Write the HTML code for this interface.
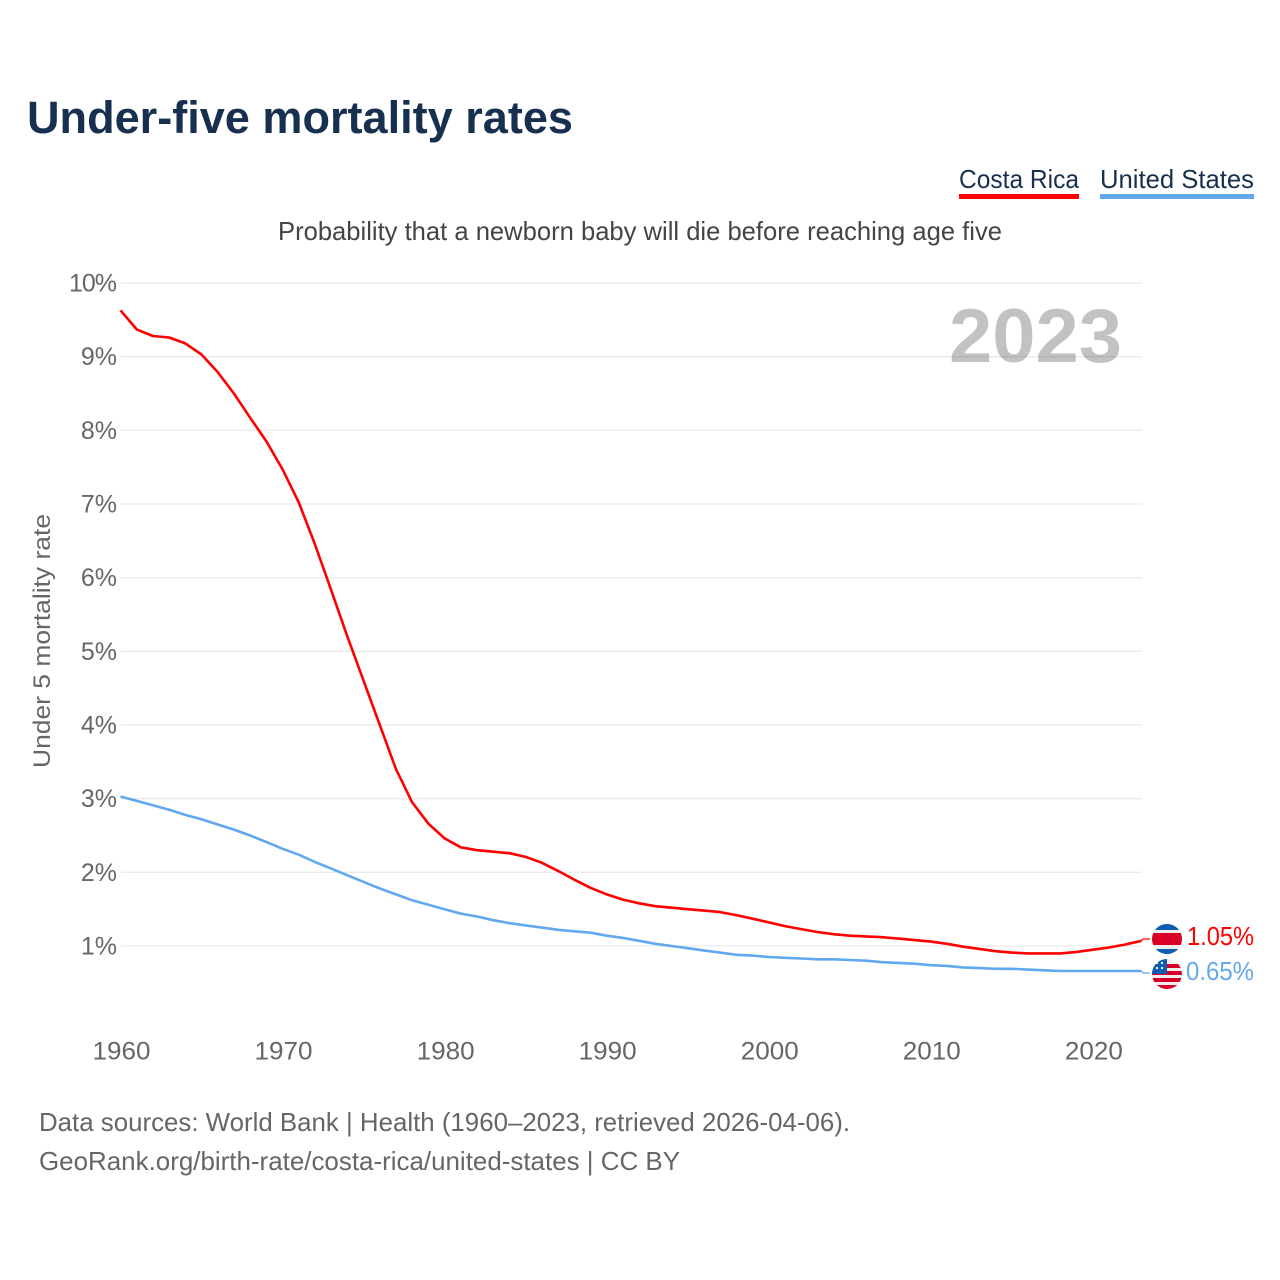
<!DOCTYPE html>
<html lang="en">
<head>
<meta charset="utf-8">
<title>Under-five mortality rates</title>
<style>
html,body{margin:0;padding:0;background:#fff;width:1280px;height:1280px;overflow:hidden}
svg{display:block}
text{font-family:"Liberation Sans",sans-serif}
</style>
</head>
<body>
<svg id="chart" xmlns="http://www.w3.org/2000/svg" width="1280" height="1280" viewBox="0 0 1280 1280">
  <defs>
    <clipPath id="flag-clip-cr"><circle cx="1167" cy="939" r="15"/></clipPath>
    <clipPath id="flag-clip-us"><circle cx="1167" cy="974" r="15"/></clipPath>
  </defs>
  <rect width="1280" height="1280" fill="#fff"/>
  <text x="27" y="133" font-size="45" font-weight="700" fill="#18304f" textLength="546" lengthAdjust="spacingAndGlyphs">Under-five mortality rates</text>

  <g>
    <g>
      <text x="959" y="188" font-size="26" fill="#18304f" textLength="120" lengthAdjust="spacingAndGlyphs">Costa Rica</text>
      <rect x="959" y="194" width="120" height="5" fill="#ff0000"/>
    </g>
    <g>
      <text x="1100" y="188" font-size="26" fill="#18304f" textLength="154" lengthAdjust="spacingAndGlyphs">United States</text>
      <rect x="1100" y="194" width="154" height="5" fill="#62a8ee"/>
    </g>
  </g>

  <text x="278" y="240" font-size="26" fill="#444" textLength="724" lengthAdjust="spacingAndGlyphs">Probability that a newborn baby will die before reaching age five</text>
  <text x="0" y="0" transform="translate(50,641) rotate(-90)" text-anchor="middle" font-size="24" fill="#666" textLength="254" lengthAdjust="spacingAndGlyphs">Under 5 mortality rate</text>

  <g id="grid"></g>
  <g id="y-ticks"></g>
  <g id="x-ticks"></g>

  <text x="949" y="362" font-size="76" font-weight="700" fill="#000" fill-opacity="0.24" textLength="173" lengthAdjust="spacingAndGlyphs">2023</text>

  <g id="series"></g>

  <g>
    <g clip-path="url(#flag-clip-cr)">
      <rect x="1150" y="922" width="34" height="34" fill="#eeeeee"/>
      <rect x="1150" y="924" width="34" height="6" fill="#0f5cb0"/>
      <rect x="1152" y="933" width="30" height="12" fill="#d80027"/>
      <rect x="1150" y="949" width="34" height="6" fill="#0f5cb0"/>
    </g>
  </g>
  <g>
    <g clip-path="url(#flag-clip-us)">
      <rect x="1150" y="957" width="34" height="34" fill="#eeeeee"/>
      <rect x="1150" y="964" width="34" height="4" fill="#d80027"/>
      <rect x="1150" y="971" width="34" height="4" fill="#d80027"/>
      <rect x="1150" y="978" width="34" height="4" fill="#d80027"/>
      <rect x="1150" y="985" width="34" height="5" fill="#d80027"/>
      <rect x="1152" y="958" width="15" height="16" fill="#0f5cb0"/>
      <rect x="1156" y="962" width="2" height="2" fill="#eee"/>
      <rect x="1161" y="962" width="2" height="2" fill="#eee"/>
      <rect x="1156" y="967" width="2" height="2" fill="#eee"/>
      <rect x="1161" y="967" width="2" height="2" fill="#eee"/>
    </g>
  </g>

  <text x="1187" y="945" font-size="26" fill="#ff0000" textLength="67" lengthAdjust="spacingAndGlyphs">1.05%</text>
  <text x="1186" y="980" font-size="26" fill="#62a8ee" textLength="68" lengthAdjust="spacingAndGlyphs">0.65%</text>

  <text x="39" y="1131" font-size="26" fill="#666" textLength="811" lengthAdjust="spacingAndGlyphs">Data sources: World Bank | Health (1960–2023, retrieved 2026-04-06).</text>
  <text x="39" y="1170" font-size="26" fill="#666" textLength="641" lengthAdjust="spacingAndGlyphs">GeoRank.org/birth-rate/costa-rica/united-states | CC BY</text>
</svg>

<script>
const startYear = 1960;
const costaRica = [9.63,9.37,9.28,9.26,9.18,9.03,8.79,8.50,8.17,7.85,7.47,7.02,6.45,5.83,5.20,4.60,4.00,3.40,2.95,2.66,2.46,2.34,2.30,2.28,2.26,2.21,2.13,2.02,1.90,1.79,1.70,1.63,1.58,1.54,1.52,1.50,1.48,1.46,1.42,1.37,1.32,1.27,1.23,1.19,1.16,1.14,1.13,1.12,1.10,1.08,1.06,1.03,0.99,0.96,0.93,0.91,0.90,0.90,0.90,0.92,0.95,0.98,1.02,1.07];
const unitedStates = [3.03,2.97,2.91,2.85,2.78,2.72,2.65,2.58,2.50,2.41,2.32,2.24,2.14,2.05,1.96,1.87,1.78,1.70,1.62,1.56,1.50,1.44,1.40,1.35,1.31,1.28,1.25,1.22,1.20,1.18,1.14,1.11,1.07,1.03,1.00,0.97,0.94,0.91,0.88,0.87,0.85,0.84,0.83,0.82,0.82,0.81,0.80,0.78,0.77,0.76,0.74,0.73,0.71,0.70,0.69,0.69,0.68,0.67,0.66,0.66,0.66,0.66,0.66,0.66];
const yTicks = [1,2,3,4,5,6,7,8,9,10];
const xTicks = [1960,1970,1980,1990,2000,2010,2020];

const NS = 'http://www.w3.org/2000/svg';
function xScale(year){ return 120.5 + (year - 1960) * (1141.5 - 120.5) / 63; }
function yScale(v){ return 946 - (v - 1) * (946 - 283) / 9; }
function make(tag, attrs, parent){
  const el = document.createElementNS(NS, tag);
  for (const k in attrs) el.setAttribute(k, attrs[k]);
  parent.appendChild(el);
  return el;
}

const grid = document.getElementById('grid');
const yG = document.getElementById('y-ticks');
const xG = document.getElementById('x-ticks');
const seriesG = document.getElementById('series');

yTicks.forEach(function(t){
  const line = make('line', {x1:121, x2:1142, y1:yScale(t), y2:yScale(t), stroke:'#ebebeb', 'stroke-width':1.3}, grid);
  
  
  const label = make('text', {x:117, y:yScale(t) + 8.5, 'text-anchor':'end', 'font-size':25, fill:'#666'}, yG);
  label.textContent = t + '%';
  if (t === 10) label.setAttribute('textLength', 48);
  
  
});

xTicks.forEach(function(t){
  const label = make('text', {x:xScale(t) + 1, y:1059.5, 'text-anchor':'middle', 'font-size':25, fill:'#666', textLength:58, lengthAdjust:'spacingAndGlyphs'}, xG);
  label.textContent = t;
  
  
});

function drawSeries(values, color, connectorY, name){
  const pts = values.map(function(v, i){ return xScale(startYear + i).toFixed(1) + ',' + yScale(v).toFixed(1); });
  const lastY = yScale(values[values.length - 1]);
  const line = make('polyline', {points:pts.join(' '), fill:'none', stroke:color, 'stroke-width':2.6, 'stroke-linejoin':'round'}, seriesG);
  
  
  const conn = make('polyline', {points:'1141.5,' + lastY.toFixed(1) + ' 1143,' + connectorY + ' 1150,' + connectorY, fill:'none', stroke:color, 'stroke-width':1.2}, seriesG);
  
  
}
drawSeries(unitedStates, '#62a8ee', 973, 'line-united-states');
drawSeries(costaRica, '#ff0000', 939, 'line-costa-rica');
</script>
</body>
</html>
